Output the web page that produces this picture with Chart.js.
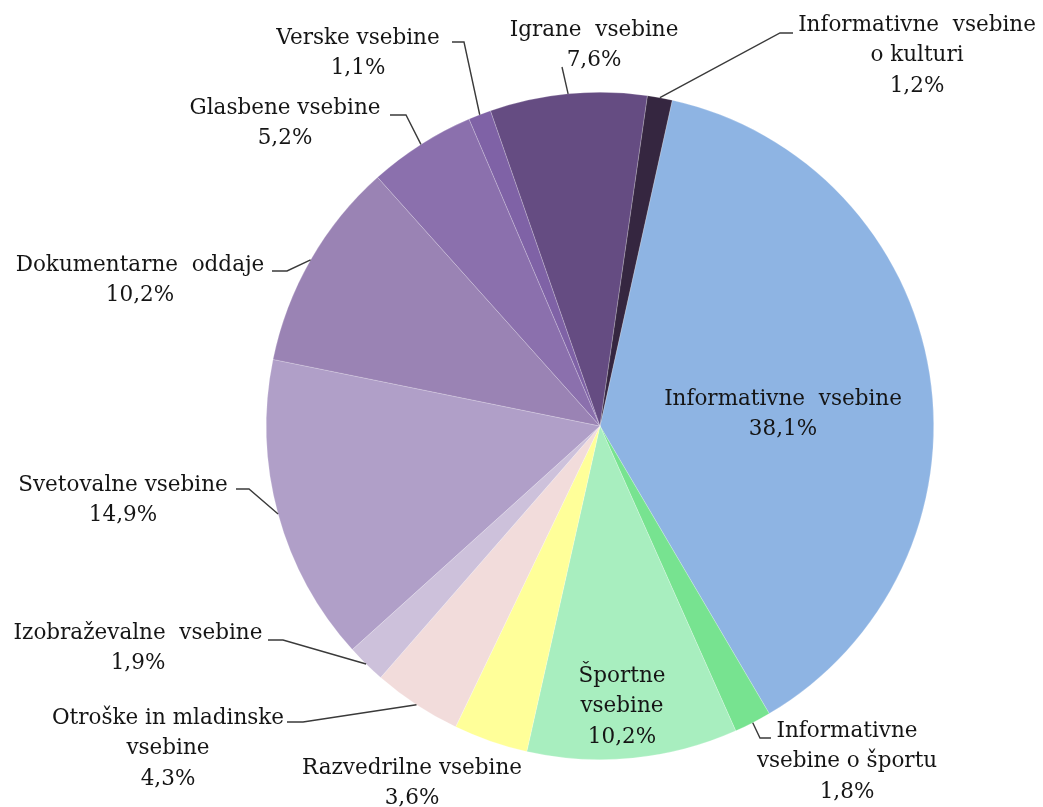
<!DOCTYPE html>
<html>
<head>
<meta charset="utf-8">
<script src="https://cdn.jsdelivr.net/npm/chart.js@4.4.0/dist/chart.umd.min.js"></script>
<style>
  html, body { margin: 0; padding: 0; background: #fff; }
  #wrap { width: 1043px; height: 807px; }
</style>
</head>
<body>
<div id="wrap"><canvas id="pieChart" width="1043" height="807"></canvas></div>
<script>
// Deleži vsebin (v %), v smeri urinega kazalca od "Informativne vsebine"
const categories = [
    'Informativne vsebine',
    'Informativne vsebine o športu',
    'Športne vsebine',
    'Razvedrilne vsebine',
    'Otroške in mladinske vsebine',
    'Izobraževalne vsebine',
    'Svetovalne vsebine',
    'Dokumentarne oddaje',
    'Glasbene vsebine',
    'Verske vsebine',
    'Igrane vsebine',
    'Informativne vsebine o kulturi'
];
const shares = [38.1, 1.8, 10.2, 3.6, 4.3, 1.9, 14.9, 10.2, 5.2, 1.1, 7.6, 1.2];

const sliceColors = [
    '#8eb4e3', '#77e390', '#a8eebf', '#ffff99', '#f2dcdb', '#cdc1db',
    '#b09fc8', '#9a83b4', '#8b70ad', '#7f62a6', '#654c82', '#352640'
];

// where each label sits (centre x, first line y) and the elbow of its leader line
const labelLayout = [
    { x: 783, y: 399, wrap: ['Informativne  vsebine'] },
    { x: 847, y: 731, wrap: ['Informativne', 'vsebine o športu'], elbow: [[771, 738], [760, 738]] },
    { x: 622, y: 676, wrap: ['Športne', 'vsebine'] },
    { x: 412, y: 768, wrap: ['Razvedrilne vsebine'] },
    { x: 168, y: 718, wrap: ['Otroške in mladinske', 'vsebine'], elbow: [[287, 722], [303, 722]] },
    { x: 138, y: 633, wrap: ['Izobraževalne  vsebine'], elbow: [[268, 640], [283, 640]] },
    { x: 123, y: 485, wrap: ['Svetovalne vsebine'], elbow: [[236, 489], [249, 489]] },
    { x: 140, y: 265, wrap: ['Dokumentarne  oddaje'], elbow: [[272, 271], [287, 271]] },
    { x: 285, y: 108, wrap: ['Glasbene vsebine'], elbow: [[390, 115], [406, 115]] },
    { x: 358, y: 38,  wrap: ['Verske vsebine'], elbow: [[452, 42], [464, 42]] },
    { x: 594, y: 30,  wrap: ['Igrane  vsebine'], elbow: [[562, 67]] },
    { x: 917, y: 25,  wrap: ['Informativne  vsebine', 'o kulturi'], elbow: [[793, 33], [780, 33]] }
];

const fmtPct = v => v.toFixed(1).replace('.', ',') + '%';

const pieLabels = {
    id: 'pieLabels',
    afterDatasetsDraw(chart) {
        const ctx = chart.ctx;
        const meta = chart.getDatasetMeta(0);
        ctx.save();

        // leader lines
        ctx.strokeStyle = '#3a3a3a';
        ctx.lineWidth = 1.4;
        meta.data.forEach((arc, i) => {
            const lay = labelLayout[i];
            if (!lay.elbow) return;
            const p = arc.getProps(['x', 'y', 'startAngle', 'endAngle', 'outerRadius'], true);
            const mid = (p.startAngle + p.endAngle) / 2;
            const ax = p.x + Math.cos(mid) * p.outerRadius;
            const ay = p.y + Math.sin(mid) * p.outerRadius;
            ctx.beginPath();
            ctx.moveTo(lay.elbow[0][0], lay.elbow[0][1]);
            lay.elbow.slice(1).forEach(pt => ctx.lineTo(pt[0], pt[1]));
            ctx.lineTo(ax, ay);
            ctx.stroke();
        });

        // texts
        ctx.fillStyle = '#151515';
        ctx.font = '21.5px "DejaVu Serif"';
        ctx.textAlign = 'center';
        ctx.textBaseline = 'middle';
        labelLayout.forEach((lay, i) => {
            const lines = lay.wrap.concat([fmtPct(shares[i])]);
            lines.forEach((t, k) => ctx.fillText(t, lay.x, lay.y + k * 30.5));
        });
        ctx.restore();
    }
};

new Chart(document.getElementById('pieChart'), {
    type: 'pie',
    data: {
        labels: categories,
        datasets: [{
            data: shares,
            backgroundColor: sliceColors,
            borderColor: 'rgba(255,255,255,0.35)',
            borderWidth: 0.6
        }]
    },
    options: {
        responsive: false,
        animation: false,
        rotation: 12.5,
        layout: { padding: { left: 266, right: 109, top: 92, bottom: 47 } },
        plugins: {
            legend: { display: false },
            tooltip: { enabled: false }
        }
    },
    plugins: [pieLabels]
});
</script>
</body>
</html>
